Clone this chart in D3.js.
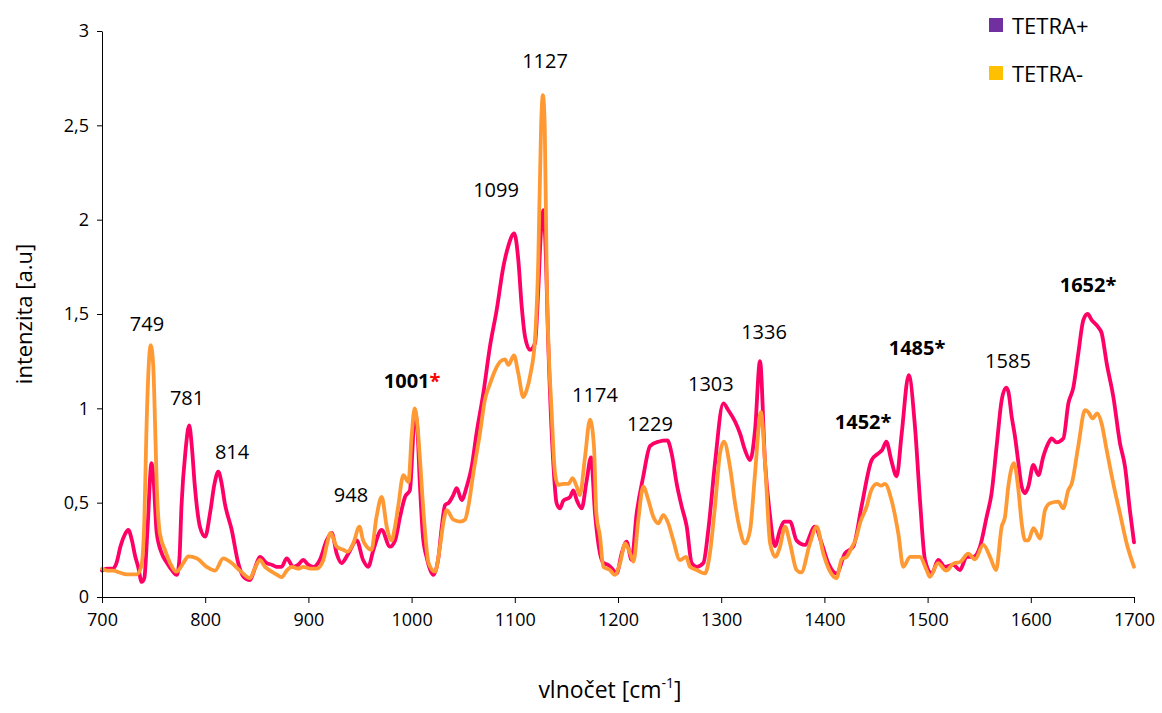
<!DOCTYPE html>
<html>
<head>
<meta charset="utf-8">
<script src="https://cdn.jsdelivr.net/npm/d3@7"></script>
<style>
  html, body { margin: 0; padding: 0; background: #fff; }
  svg { display: block; }
  text { font-family: "Open Sans", "Noto Sans", sans-serif; fill: #000; }
</style>
</head>
<body>
<svg id="chart" width="1162" height="713"></svg>
<script>
// ---------------- DATA ----------------
const seriesNames = ["TETRA+", "TETRA-"];
const legendColors = ["#7030A0", "#FFC000"];

const xTicks = [700, 800, 900, 1000, 1100, 1200, 1300, 1400, 1500, 1600, 1700];
const yTicks = [0, 0.5, 1, 1.5, 2, 2.5, 3];
const yTickLabels = ["0", "0,5", "1", "1,5", "2", "2,5", "3"];

// TETRA+ spectrum: [wavenumber cm-1, intensity a.u.]
const tetraPlus = [
[700,0.14],[705,0.15],[710,0.15],[714,0.18],[718,0.27],[722,0.33],[725.5,0.355],[729,0.3],[732,0.22],[735,0.16],[738.5,0.08],[741,0.1],[744,0.35],[748,0.71],[750,0.62],[753,0.34],[758,0.23],[763,0.18],[768,0.14],[772.5,0.117],[775,0.2],[777,0.48],[781,0.78],[784.5,0.91],[787,0.8],[790,0.585],[795,0.37],[800,0.32],[804.7,0.445],[809,0.6],[812.7,0.664],[816,0.6],[819,0.497],[825.7,0.355],[832,0.18],[837,0.108],[843.4,0.09],[848,0.15],[853,0.213],[859.6,0.18],[865,0.17],[869,0.16],[874,0.16],[879,0.205],[885.4,0.16],[890,0.17],[895,0.196],[900,0.17],[904.8,0.16],[911,0.196],[917.7,0.30],[922.6,0.34],[927.4,0.23],[932,0.18],[938.7,0.23],[946.8,0.30],[953,0.196],[958,0.16],[963,0.25],[971,0.355],[979,0.267],[984,0.30],[988.8,0.425],[993.6,0.53],[998.4,0.567],[1001,0.8],[1003,0.98],[1005.5,0.9],[1008,0.6],[1011,0.32],[1014.6,0.21],[1021,0.117],[1026,0.21],[1029,0.36],[1032.4,0.487],[1036,0.5],[1040.4,0.54],[1043.7,0.577],[1048.5,0.514],[1053.4,0.585],[1058.2,0.69],[1063,0.87],[1069.5,1.08],[1076,1.33],[1082.4,1.52],[1088.9,1.75],[1093.7,1.86],[1099.5,1.927],[1103.4,1.786],[1106.7,1.54],[1109.9,1.38],[1114.7,1.31],[1119.6,1.345],[1122.5,1.6],[1125.5,1.95],[1127.6,2.05],[1129.5,1.9],[1132.5,1.33],[1137.3,0.71],[1140.5,0.497],[1143.8,0.47],[1147,0.51],[1153.5,0.53],[1156.7,0.565],[1160,0.514],[1164.8,0.47],[1169.7,0.62],[1173.8,0.74],[1177.7,0.445],[1182.6,0.23],[1186,0.18],[1190.6,0.17],[1195.4,0.143],[1198.7,0.125],[1203.5,0.23],[1208.3,0.293],[1213.2,0.196],[1218,0.44],[1224.5,0.64],[1231,0.80],[1239,0.823],[1247.8,0.83],[1252,0.76],[1256.9,0.60],[1261.7,0.48],[1266.6,0.373],[1271.4,0.18],[1276.3,0.16],[1282.7,0.18],[1287.5,0.355],[1294,0.71],[1302,1.026],[1306.9,0.99],[1313.4,0.93],[1318.2,0.867],[1323,0.78],[1328,0.726],[1332.8,0.885],[1337.6,1.25],[1342.5,0.71],[1347,0.445],[1352,0.27],[1357,0.355],[1361,0.40],[1366.7,0.40],[1373,0.30],[1381,0.276],[1390.7,0.373],[1397.3,0.285],[1403.7,0.18],[1411.8,0.125],[1419.8,0.23],[1428,0.267],[1436,0.48],[1445.8,0.726],[1452,0.76],[1456,0.78],[1460,0.823],[1465,0.72],[1470,0.64],[1474.9,0.867],[1481.7,1.176],[1487.8,0.90],[1492.6,0.514],[1497.5,0.196],[1504,0.125],[1510.3,0.196],[1516.8,0.16],[1524.9,0.17],[1531.4,0.143],[1537.8,0.213],[1544.3,0.213],[1550.8,0.267],[1557.2,0.425],[1562,0.55],[1566.9,0.80],[1571.8,1.044],[1576,1.11],[1578.2,1.09],[1581.5,0.955],[1584.7,0.85],[1588,0.71],[1591.2,0.585],[1594.4,0.55],[1597.6,0.585],[1602.5,0.70],[1607.3,0.646],[1612.1,0.744],[1617,0.815],[1620.2,0.84],[1625,0.82],[1631.5,0.84],[1636.4,1.026],[1641.2,1.11],[1646,1.29],[1650.9,1.468],[1655,1.50],[1659,1.468],[1665.4,1.43],[1668.6,1.40],[1673.5,1.24],[1680,1.06],[1686.4,0.815],[1691.3,0.69],[1696,0.46],[1700,0.29]
];

// TETRA- spectrum: [wavenumber cm-1, intensity a.u.]
const tetraMinus = [
[700,0.15],[705,0.14],[711,0.14],[717,0.13],[724,0.12],[733.6,0.12],[738,0.16],[741,0.4],[743,0.87],[745.5,1.25],[747.2,1.335],[749.7,1.22],[751.5,0.9],[753,0.60],[756,0.34],[761,0.25],[766,0.18],[772,0.134],[778.8,0.18],[783.6,0.215],[791.7,0.205],[801.4,0.16],[809.5,0.14],[817.5,0.205],[825.6,0.18],[833.7,0.14],[843.4,0.1],[848,0.15],[853,0.196],[858,0.16],[862.8,0.14],[869,0.12],[874,0.105],[879,0.14],[884,0.16],[890,0.15],[895,0.16],[902,0.15],[908,0.15],[914.5,0.196],[918,0.28],[921.5,0.34],[927.4,0.267],[933.8,0.25],[938,0.24],[943.5,0.285],[949.5,0.373],[953,0.3],[956.5,0.267],[961,0.25],[966,0.425],[971,0.53],[976,0.37],[980.7,0.30],[983.5,0.36],[987,0.48],[992,0.646],[997,0.61],[1000,0.85],[1003,1.0],[1005.5,0.92],[1008,0.74],[1011.6,0.445],[1016.5,0.18],[1022.7,0.134],[1027.5,0.267],[1030.7,0.39],[1034,0.46],[1040.4,0.41],[1047,0.40],[1051.7,0.41],[1055,0.48],[1059.8,0.655],[1066.3,0.87],[1071,1.044],[1076,1.13],[1080.8,1.2],[1085.7,1.247],[1090.5,1.26],[1093.7,1.23],[1099.2,1.28],[1103.4,1.185],[1108.2,1.06],[1111.5,1.097],[1115.3,1.185],[1119.5,1.36],[1122.7,1.77],[1125.5,2.5],[1127.2,2.66],[1129,2.5],[1131,1.68],[1135.8,0.97],[1139,0.655],[1142,0.594],[1147,0.6],[1152,0.6],[1156,0.63],[1160,0.585],[1163,0.54],[1168,0.74],[1172.9,0.94],[1176.7,0.80],[1179,0.445],[1182.6,0.32],[1185.8,0.16],[1192.2,0.143],[1197,0.117],[1202,0.18],[1207,0.284],[1211.8,0.23],[1215,0.187],[1219.7,0.41],[1224.5,0.585],[1229.4,0.514],[1234.2,0.425],[1239,0.39],[1243.9,0.434],[1248.7,0.39],[1253.6,0.30],[1260,0.196],[1265.9,0.213],[1269.8,0.16],[1276.3,0.143],[1284.3,0.125],[1289,0.23],[1294,0.48],[1298.8,0.76],[1302.7,0.823],[1308.5,0.69],[1313.4,0.497],[1318.2,0.355],[1323,0.284],[1328,0.355],[1332.8,0.655],[1338.5,0.98],[1342.5,0.71],[1347.4,0.284],[1352.5,0.213],[1357,0.267],[1361.8,0.373],[1366.7,0.284],[1373,0.143],[1377.5,0.13],[1386,0.284],[1392.5,0.373],[1399,0.23],[1405,0.14],[1411.8,0.1],[1416.7,0.2],[1421.5,0.213],[1426.7,0.265],[1430,0.30],[1435,0.40],[1441,0.48],[1445,0.56],[1450.7,0.60],[1455,0.59],[1458.7,0.60],[1465,0.514],[1471.6,0.337],[1476.5,0.16],[1483,0.213],[1492.6,0.213],[1499,0.143],[1502.3,0.107],[1510,0.18],[1518,0.14],[1525,0.177],[1531.7,0.186],[1539.4,0.23],[1546,0.2],[1554,0.276],[1560.5,0.213],[1566.3,0.143],[1571.8,0.373],[1575,0.425],[1578.2,0.585],[1583.7,0.71],[1588,0.567],[1591.2,0.39],[1594.4,0.30],[1597.6,0.30],[1602.5,0.365],[1609,0.31],[1613.8,0.46],[1618.6,0.497],[1626.7,0.505],[1631.5,0.47],[1636.4,0.567],[1639.6,0.60],[1646,0.80],[1652.5,0.99],[1655.7,0.98],[1659.9,0.947],[1664.4,0.973],[1668.6,0.92],[1673.5,0.78],[1680,0.60],[1686.4,0.443],[1692.9,0.284],[1700,0.16]
];

// Peak annotations: text, anchor wavenumber, anchor intensity, bold
const peakTexts = ["749", "781", "814", "948", "1001", "1099", "1127", "1174", "1229", "1303", "1336", "1452", "1485", "1585", "1652"];
const peakAnchorX = [743.6, 782.4, 826, 941.3, 1000.5, 1081.8, 1129.3, 1177.7, 1231, 1290, 1341.5, 1437.5, 1489.8, 1577.9, 1655.5];
const peakAnchorY = [1.452, 1.06, 0.774, 0.546, 1.15, 2.162, 2.846, 1.076, 0.922, 1.134, 1.41, 0.933, 1.325, 1.256, 1.659];
const peakBold = [false, false, false, false, true, false, false, false, false, false, false, true, true, false, true];
const peakStarColor = [null, null, null, null, "#FF0000", null, null, null, null, null, null, "#000", "#000", null, "#000"];

// ---------------- CHART ----------------
const svg = d3.select("#chart");
const x = d3.scaleLinear().domain([700, 1700]).range([102, 1134]);
const y = d3.scaleLinear().domain([0, 3]).range([597, 31]);

const lineColors = ["#FF0066", "#FF9933"];
const line = d3.line().x(d => x(d[0])).y(d => y(d[1])).curve(d3.curveMonotoneX);

[tetraPlus, tetraMinus].forEach((s, i) => {
  svg.append("path")
    .datum(s)
    .attr("d", line)
    .attr("fill", "none")
    .attr("stroke", lineColors[i])
    .attr("stroke-width", 3.8)
    .attr("stroke-linejoin", "round")
    .attr("stroke-linecap", "round");
});

// Axes
const xAxis = d3.axisBottom(x).tickValues(xTicks).tickSize(6).tickSizeOuter(0).tickFormat(d3.format("d"));
const gx = svg.append("g").attr("transform", `translate(0,${y(0)})`).call(xAxis);
gx.select(".domain").attr("stroke", "#000").attr("stroke-width", 1);
gx.selectAll(".tick line").attr("stroke", "#000");
gx.selectAll(".tick text").attr("font-size", 18).attr("font-family", "Open Sans").attr("dy", "1.1em").attr("fill", "#000");

const yAxis = d3.axisLeft(y).tickValues(yTicks).tickSize(5).tickSizeOuter(0).tickFormat((d, i) => yTickLabels[i]);
const gy = svg.append("g").attr("transform", `translate(${x(700)},0)`).call(yAxis);
gy.select(".domain").attr("stroke", "#000").attr("stroke-width", 1);
gy.selectAll(".tick line").attr("stroke", "#000");
gy.selectAll(".tick text").attr("font-size", 18).attr("font-family", "Open Sans").attr("x", -13).attr("fill", "#000");

// Axis titles
svg.append("text")
  .attr("transform", `translate(23,${(y(0) + y(3)) / 2}) rotate(-90)`)
  .attr("text-anchor", "middle")
  .attr("dominant-baseline", "central")
  .attr("font-size", 22)
  .text("intenzita [a.u]");

const xt = svg.append("text")
  .attr("x", 610).attr("y", 698)
  .attr("text-anchor", "middle")
  .attr("font-size", 23);
xt.append("tspan").text("vlnočet [cm");
xt.append("tspan").attr("font-size", 14).attr("dy", -10).text("-1");
xt.append("tspan").attr("dy", 10).text("]");

// Peak labels
peakTexts.forEach((t, i) => {
  const tx = svg.append("text")
    .attr("x", x(peakAnchorX[i]))
    .attr("y", y(peakAnchorY[i]))
    .attr("text-anchor", "middle")
    .attr("dominant-baseline", "central")
    .attr("font-size", 20)
    .attr("font-weight", peakBold[i] ? 700 : 400)
    .attr("fill", "#1a1a1a");
  tx.append("tspan").text(t);
  if (peakStarColor[i]) tx.append("tspan").attr("fill", peakStarColor[i]).text("*");
});

// Legend
seriesNames.forEach((name, i) => {
  const ly = 25 + i * 48;
  svg.append("rect")
    .attr("x", 989).attr("y", ly - 7).attr("width", 14).attr("height", 14)
    .attr("fill", legendColors[i]);
  svg.append("text")
    .attr("x", 1012).attr("y", ly)
    .attr("dominant-baseline", "central")
    .attr("font-size", 22)
    .attr("fill", "#1a1a1a")
    .text(name);
});
</script>
</body>
</html>
